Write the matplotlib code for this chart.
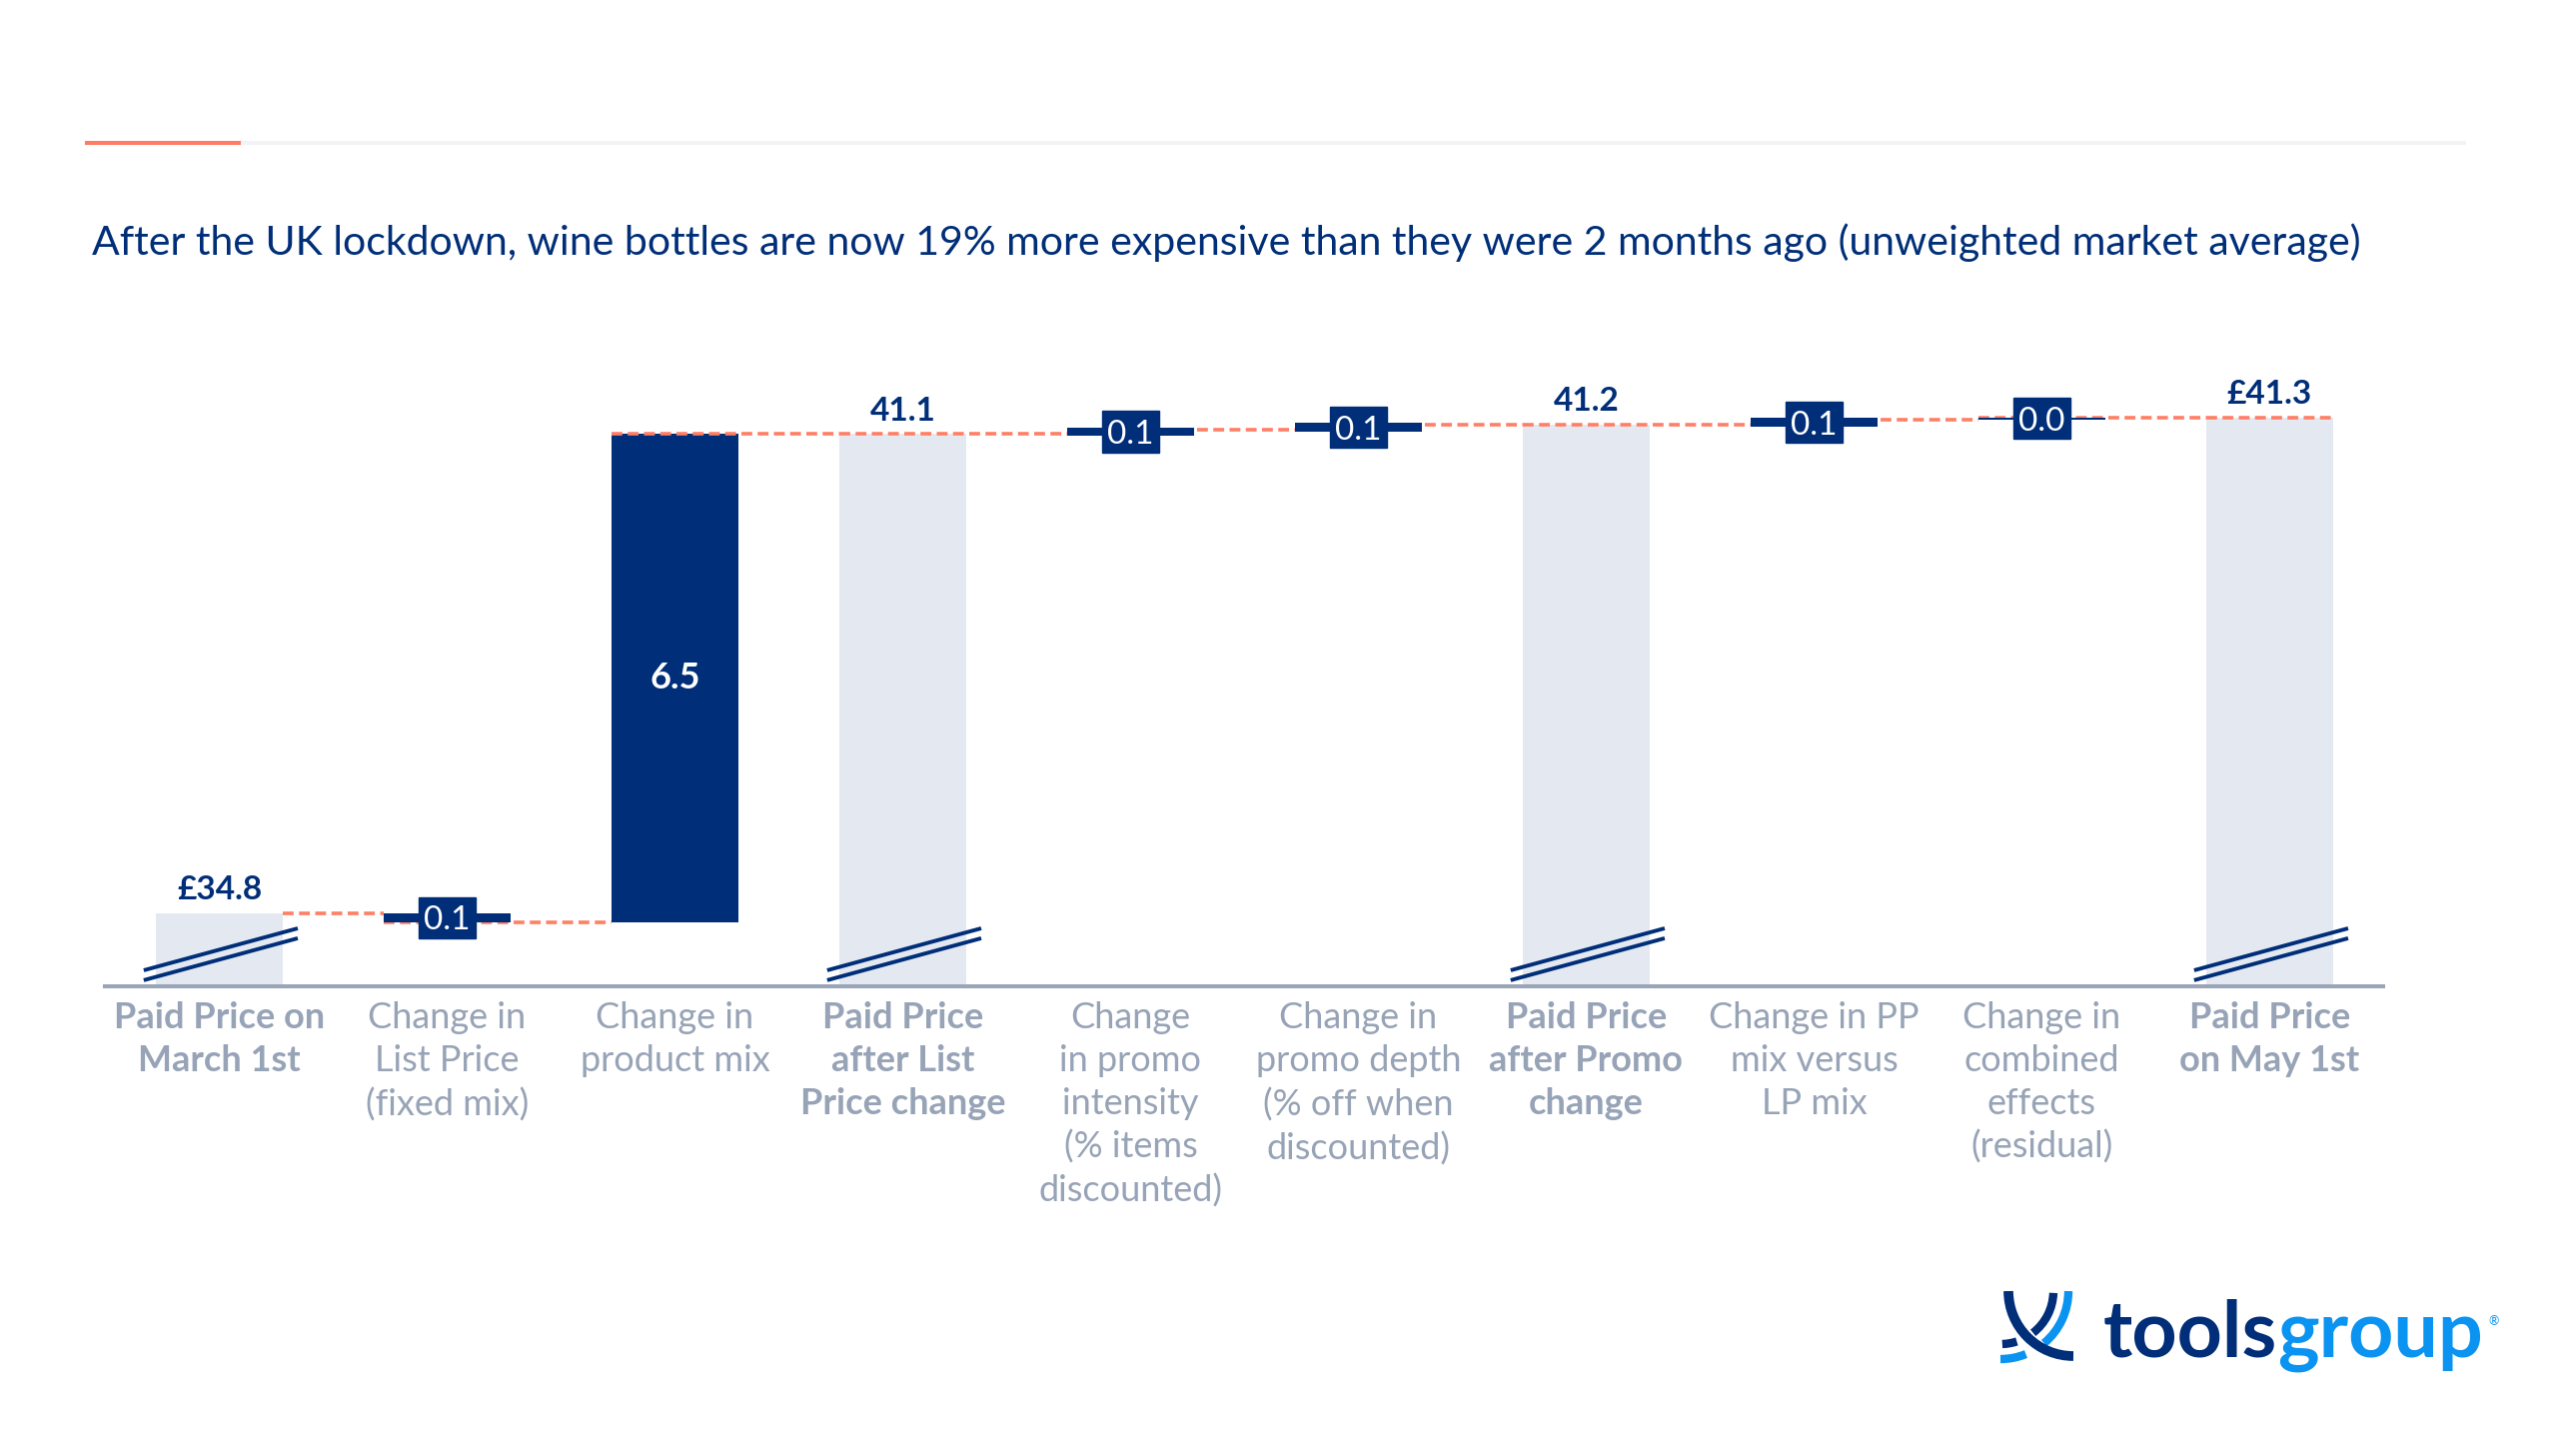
import numpy as np
import matplotlib
matplotlib.use("Agg")
import matplotlib.pyplot as plt
from matplotlib.patches import Rectangle, Arc
from matplotlib.lines import Line2D

plt.rcParams['font.family'] = ['Lato', 'DejaVu Sans']

NAVY = "#002E78"
BAR_GREY = "#E4E9F1"
AXIS_GREY = "#9AA6B8"
LABEL_GREY = "#97A3B6"
SALMON = "#FF7F66"
LOGO_BLUE = "#0A93F0"

title = ("After the UK lockdown, wine bottles are now 19% more expensive than "
         "they were 2 months ago (unweighted market average)")

categories = [
    "Paid Price on\nMarch 1st",
    "Change in\nList Price\n(fixed mix)",
    "Change in\nproduct mix",
    "Paid Price\nafter List\nPrice change",
    "Change\nin promo\nintensity\n(% items\ndiscounted)",
    "Change in\npromo depth\n(% off when\ndiscounted)",
    "Paid Price\nafter Promo\nchange",
    "Change in PP\nmix versus\nLP mix",
    "Change in\ncombined\neffects\n(residual)",
    "Paid Price\non May 1st",
]
# totals are absolute prices, the others are changes
values = [34.80, -0.12, 6.40, 41.08, 0.06, 0.06, 41.20, 0.07, 0.03, 41.30]
is_total = [True, False, False, True, False, False, True, False, False, True]
value_labels = ["£34.8", "0.1", "6.5", "41.1", "0.1", "0.1", "41.2", "0.1", "0.0", "£41.3"]

fig = plt.figure(figsize=(25.78, 14.35), dpi=100)
ax = fig.add_axes([0.0409, 0.3122, 0.8844, 0.4787])
ybase, ytop = 33.84, 42.84
n = len(categories)
x = np.arange(n)
w = 0.557

# running levels
starts, ends = [], []
cur = values[0]
for v, t in zip(values, is_total):
    if t:
        starts.append(ybase)
        cur = v
    else:
        starts.append(cur)
        cur = cur + v
    ends.append(cur)

box_w, box_h = 0.25, 0.54
for i in range(n):
    if is_total[i]:
        ax.bar(x[i], ends[i] - ybase, bottom=ybase, width=w, color=BAR_GREY, zorder=1)
        ax.annotate(value_labels[i], (x[i], ends[i]), xytext=(0, 10), textcoords="offset points",
                    ha="center", va="baseline", fontsize=24, fontweight="bold", color=NAVY)
        # axis break marks
        xl, xr = x[i] - w / 2 - 0.053, x[i] + w / 2 + 0.066
        for y0, y1 in [(0.08, 0.63), (0.21, 0.76)]:
            ax.plot([xl, xr], [ybase + y0, ybase + y1], color=NAVY, lw=2.8,
                    solid_capstyle="butt", zorder=6, clip_on=False)
    elif abs(values[i]) > 1:
        ax.bar(x[i], values[i], bottom=starts[i], width=w, color=NAVY, zorder=1)
        ax.text(x[i], (starts[i] + ends[i]) / 2, value_labels[i], ha="center", va="center",
                fontsize=26, fontweight="bold", color="white", zorder=5)
    else:
        d = abs(values[i])
        h = d if d < 0.05 else max(d, 0.11)
        mid = (starts[i] + ends[i]) / 2
        ax.bar(x[i], h, bottom=mid - h / 2, width=w, color=NAVY, zorder=3)
        ax.add_patch(Rectangle((x[i] - box_w / 2, mid - box_h / 2), box_w, box_h,
                               color=NAVY, zorder=4))
        ax.text(x[i], mid, value_labels[i], ha="center", va="center_baseline",
                fontsize=24, color="white", zorder=5)

# dashed connectors
for i in range(n):
    xs = x[i] - w / 2 if i > 0 else x[i] + w / 2
    xe = x[i + 1] - w / 2 if i < n - 1 else x[i] + w / 2
    ax.plot([xs, xe], [ends[i], ends[i]], color=SALMON, lw=2.6, dashes=(3, 1.5), zorder=2)

ax.set_xlim(-0.5, n - 0.5)
ax.set_ylim(ybase, ytop)
for s in ["top", "left", "right"]:
    ax.spines[s].set_visible(False)
ax.spines["bottom"].set_color(AXIS_GREY)
ax.spines["bottom"].set_linewidth(2.9)
ax.set_yticks([])
ax.set_xticks(x, labels=categories)
ax.tick_params(axis="x", length=0, pad=11, labelsize=26, labelcolor=LABEL_GREY)
for lbl, t in zip(ax.get_xticklabels(), is_total):
    lbl.set_fontweight("bold" if t else "normal")
    lbl.set_linespacing(1.36)
ax.set_facecolor("none")

renderer = fig.canvas.get_renderer()

def fit_width(txt, target_px):
    wpx = txt.get_window_extent(renderer=renderer).width
    txt.set_fontsize(txt.get_fontsize() * target_px / wpx)

# header rule and title
fig.add_artist(Line2D([0.0337, 0.0943], [0.9003, 0.9003], color="#FF7B63", lw=2.9))
fig.add_artist(Line2D([0.0943, 0.9566], [0.9003, 0.9003], color="#F2F3F7", lw=2.9))
t = fig.text(92 / 2578, 1 - 255 / 1435, title, color=NAVY, fontsize=27, ha="left", va="baseline")
fit_width(t, 2275)

# logo
lx, ly = 2105 / 2578, 1 - 1358 / 1435
probe = fig.text(lx, ly, "toolsgroup", fontsize=50, fontweight="bold")
fit_width(probe, 381)
fs = probe.get_fontsize()
probe.remove()
t1 = fig.text(lx, ly, "tools", fontsize=fs, fontweight="bold", color=NAVY, ha="left", va="baseline")
x1 = t1.get_window_extent(renderer=renderer).x1 / fig.bbox.width
t2 = fig.text(x1, ly, "group", fontsize=fs, fontweight="bold", color=LOGO_BLUE, ha="left", va="baseline")
x2 = t2.get_window_extent(renderer=renderer).x1 / fig.bbox.width
fig.text(x2 + 0.002, 1 - 1322 / 1435, "®", fontsize=9, color=LOGO_BLUE, ha="left", va="center")

icon = fig.add_axes([2002 / 2578, 1 - 1369 / 1435, 73 / 2578, 77 / 1435])
icon.set_xlim(0, 73)
icon.set_ylim(0, 77)
icon.axis("off")
for (t1a, t2a) in [(-90, -68), (-50, 0)]:
    icon.add_patch(Arc((0, 77), 136, 136, theta1=t1a, theta2=t2a, color=LOGO_BLUE, lw=6, clip_on=False))
for (t1a, t2a) in [(-88, -72), (-52, -2)]:
    icon.add_patch(Arc((0, 77), 106, 106, theta1=t1a, theta2=t2a, color=NAVY, lw=6, clip_on=False))
icon.add_patch(Arc((73, 77), 130, 130, theta1=180, theta2=270, color=NAVY, lw=7, clip_on=False))

fig.savefig("out.png", dpi=100, facecolor="white")
